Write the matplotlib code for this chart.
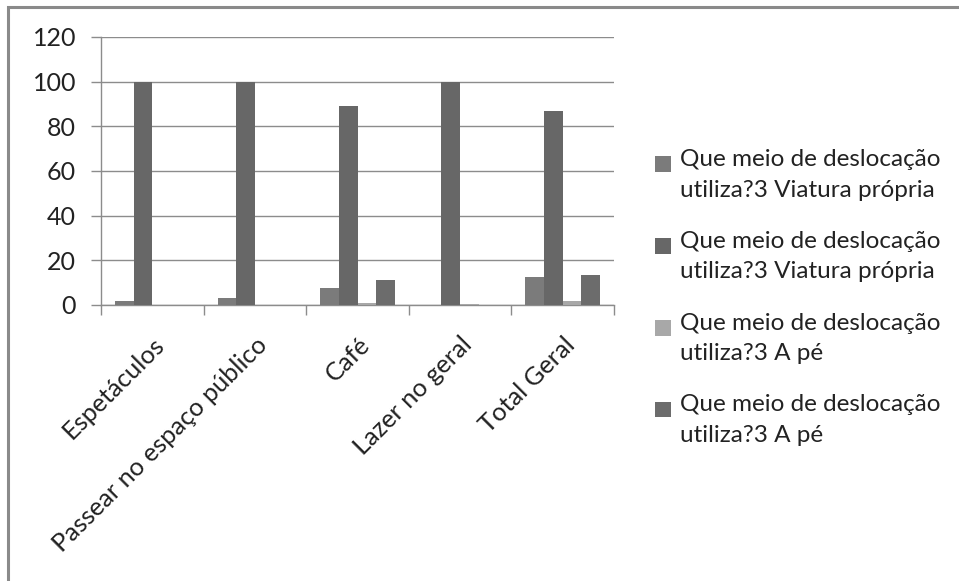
import matplotlib
matplotlib.use("Agg")
import matplotlib.pyplot as plt
from matplotlib.patches import Rectangle, Patch
from matplotlib.legend_handler import HandlerPatch
import numpy as np

plt.rcParams['font.family'] = ['Lato', 'DejaVu Sans']

categories = ["Espetáculos", "Passear no espaço público", "Café", "Lazer no geral", "Total Geral"]
series_labels = [
    "Que meio de deslocação\nutiliza?3 Viatura própria",
    "Que meio de deslocação\nutiliza?3 Viatura própria",
    "Que meio de deslocação\nutiliza?3 A pé",
    "Que meio de deslocação\nutiliza?3 A pé",
]
s1 = [2, 3, 7.5, 0, 12.7]
s2 = [100, 100, 89, 100, 87]
s3 = [0, 0, 0.7, 0.6, 1.8]
s4 = [0, 0, 11, 0, 13.4]
series = [s1, s2, s3, s4]
colors = ["#7b7b7b", "#676767", "#a8a8a8", "#6c6c6c"]
yticks = [0, 20, 40, 60, 80, 100, 120]

fig = plt.figure(figsize=(9.59, 5.81), dpi=100)
fig.patch.set_facecolor("white")

# outer chart frame
fig.add_artist(Rectangle((8 / 959, -0.1), 1.2, 1 - 7 / 581 + 0.1,
                         transform=fig.transFigure, fill=False,
                         edgecolor="#8a8a8a", linewidth=2.2, clip_on=False))

ax = fig.add_axes([101 / 959, 1 - 305 / 581, 513 / 959, 268 / 581])
n = len(categories)
w = 1 / 5.5
x = np.arange(n)
for i, (vals, c) in enumerate(zip(series, colors)):
    ax.bar(x - 2 * w + (i + 0.5) * w, vals, width=w, color=c,
           label=series_labels[i], zorder=3)

ax.set_xlim(-0.5, n - 0.5)
ax.set_ylim(0, 120)
ax.set_yticks(yticks)
ax.set_yticklabels([str(v) for v in yticks], fontsize=18, color="#222222")
ax.yaxis.grid(True, color="#8c8c8c", linewidth=1.0, zorder=0)
ax.set_axisbelow(True)

ax.set_xticks(np.arange(n + 1) - 0.5, minor=False)
ax.set_xticklabels([])
ax.set_xticks(x, minor=True)
ax.set_xticklabels(categories, minor=True, rotation=45, ha="right",
                   rotation_mode="anchor", fontsize=18.3, color="#222222")
ax.tick_params(axis="x", which="minor", length=0, pad=20)
ax.tick_params(axis="x", which="major", length=7, color="#8c8c8c", width=1)
ax.tick_params(axis="y", length=7, color="#8c8c8c", width=1, pad=11)

for s in ["top", "right"]:
    ax.spines[s].set_visible(False)
for s in ["left", "bottom"]:
    ax.spines[s].set_color("#8c8c8c")
    ax.spines[s].set_linewidth(1.0)


def first_line_square(legend, orig_handle, xdescent, ydescent, width, height, fontsize):
    # square swatch raised to sit beside the first line of a two-line label
    side = min(width, height)
    return Rectangle((-xdescent, -ydescent + 0.45 * fontsize), side, side)


handles = [Patch(facecolor=c, edgecolor="none") for c in colors]
leg = fig.legend(handles, series_labels, loc="upper left",
                 bbox_to_anchor=(648 / 959, 1 - 142 / 581), frameon=False,
                 fontsize=17.5, handlelength=0.65, handleheight=0.65,
                 handletextpad=0.35, labelspacing=1.25, labelcolor="#222222",
                 borderaxespad=0, borderpad=0.3,
                 handler_map={Patch: HandlerPatch(patch_func=first_line_square)})
for t in leg.get_texts():
    t.set_linespacing(1.55)

fig.savefig("out.png", dpi=100)
